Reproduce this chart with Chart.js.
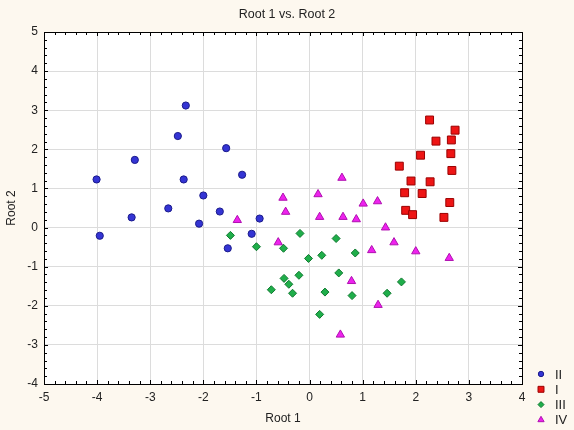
<!DOCTYPE html>
<html><head><meta charset="utf-8">
<script src="https://cdn.jsdelivr.net/npm/chart.js@4/dist/chart.umd.min.js"></script>
<style>html,body{margin:0;padding:0;background:#fdf8ef;}#wrap{width:574px;height:430px;}</style>
</head><body><div id="wrap"><canvas id="c" width="574" height="430"></canvas></div>
<script>
const chartTitle = 'Root 1 vs. Root 2';
const seriesNames = ['II', 'I', 'III', 'IV'];
const xTicks = [-5, -4, -3, -2, -1, 0, 1, 2, 3, 4];
const yTicks = [-4, -3, -2, -1, 0, 1, 2, 3, 4, 5];

const g2x = [-2.33, -2.48, -1.57, -3.29, -4.01, -2.37, -1.27, -2.00, -2.66, -1.69, -3.35, -2.08, -0.94, -1.09, -3.95, -1.54];
const g2y = [3.12, 2.34, 2.03, 1.73, 1.23, 1.23, 1.35, 0.82, 0.49, 0.41, 0.26, 0.10, 0.23, -0.16, -0.21, -0.53];

const g1x = [2.26, 2.74, 2.38, 2.67, 2.09, 2.66, 1.69, 2.68, 1.91, 2.27, 1.79, 2.12, 2.64, 1.81, 1.94, 2.53];
const g1y = [2.75, 2.49, 2.21, 2.24, 1.85, 1.89, 1.57, 1.46, 1.19, 1.17, 0.89, 0.87, 0.64, 0.44, 0.33, 0.26];

const g3x = [-1.49, -1.00, -0.18, -0.49, 0.50, -0.02, 0.23, 0.86, 0.55, -0.20, -0.48, -0.39, -0.72, -0.32, 0.29, 0.80, 1.46, 1.73, 0.19];
const g3y = [-0.20, -0.49, -0.15, -0.53, -0.28, -0.79, -0.71, -0.65, -1.16, -1.22, -1.30, -1.45, -1.59, -1.68, -1.65, -1.74, -1.68, -1.39, -2.22];

const g4x = [0.61, -0.50, 0.16, -0.45, -1.36, 0.19, 0.63, 0.88, 1.01, 1.28, 1.43, 1.59, 1.17, 2.00, 2.63, -0.59, 0.79, 1.29, 0.58];
const g4y = [1.27, 0.76, 0.85, 0.40, 0.19, 0.27, 0.27, 0.21, 0.61, 0.67, 0.00, -0.38, -0.58, -0.61, -0.78, -0.38, -1.37, -1.98, -2.74];

function pts(xs, ys) { return xs.map((x, i) => ({x: x, y: ys[i]})); }

const FONT = '"Liberation Sans", Arial, sans-serif';
const styles = [
  {pointStyle: 'circle', radius: 3.6, bg: '#3434d4', border: '#1c1c8c'},
  {pointStyle: 'rect', radius: 5.6, bg: '#ee1515', border: '#9a0000'},
  {pointStyle: 'rectRot', radius: 4, bg: '#1fae4a', border: '#0f7a30'},
  {pointStyle: 'triangle', radius: 4.8, bg: '#ee22ee', border: '#b010b0'}
];
const dataX = [g2x, g1x, g3x, g4x];
const dataY = [g2y, g1y, g3y, g4y];

const datasets = seriesNames.map((n, i) => ({
  label: n,
  data: pts(dataX[i], dataY[i]),
  pointStyle: styles[i].pointStyle,
  pointRadius: styles[i].radius,
  pointHoverRadius: styles[i].radius,
  backgroundColor: styles[i].bg,
  borderColor: styles[i].border,
  borderWidth: 1
}));

const framePlugin = {
  id: 'frame',
  beforeDraw(chart) {
    const ctx = chart.ctx, a = chart.chartArea;
    ctx.save();
    ctx.fillStyle = '#fdf8ef';
    ctx.fillRect(0, 0, chart.width, chart.height);
    ctx.fillStyle = '#ffffff';
    ctx.fillRect(a.left, a.top, a.right - a.left, a.bottom - a.top);
    ctx.restore();
  },
  afterDatasetsDraw(chart) {
    const ctx = chart.ctx, a = chart.chartArea;
    const xs = chart.scales.x, ys = chart.scales.y;
    ctx.save();
    ctx.strokeStyle = '#000';
    ctx.lineWidth = 1;
    ctx.strokeRect(Math.round(a.left) + 0.5, Math.round(a.top) + 0.5, Math.round(a.right - a.left), Math.round(a.bottom - a.top));
    ctx.beginPath();
    for (let k = 0; k <= 45; k++) {
      const v = xTicks[0] + k * 0.2;
      const px = Math.round(xs.getPixelForValue(v)) + 0.5;
      const len = (k % 5 === 0) ? 4 : 3;
      ctx.moveTo(px, a.bottom); ctx.lineTo(px, a.bottom - len);
      ctx.moveTo(px, a.top); ctx.lineTo(px, a.top + len);
    }
    for (let k = 0; k <= 45; k++) {
      const v = yTicks[0] + k * 0.2;
      const py = Math.round(ys.getPixelForValue(v)) + 0.5;
      const len = (k % 5 === 0) ? 4 : 3;
      ctx.moveTo(a.left, py); ctx.lineTo(a.left + len, py);
      ctx.moveTo(a.right, py); ctx.lineTo(a.right - len, py);
    }
    ctx.stroke();
    ctx.restore();
  },
  afterDraw(chart) {
    const ctx = chart.ctx, a = chart.chartArea;
    ctx.save();
    ctx.font = '12.5px ' + FONT;
    ctx.fillStyle = '#222';
    ctx.textAlign = 'center';
    ctx.textBaseline = 'middle';
    ctx.fillText(chartTitle, chart.width / 2, 15);
    const mx = a.right + 19, tx = a.right + 33;
    let y0 = a.bottom - 10;
    ctx.font = '13px ' + FONT;
    ctx.textAlign = 'left';
    chart.data.datasets.forEach((ds, i) => {
      const y = y0 + i * 15.3;
      ctx.fillStyle = ds.backgroundColor;
      ctx.strokeStyle = ds.borderColor;
      ctx.lineWidth = 1;
      Chart.helpers.drawPoint(ctx, {pointStyle: ds.pointStyle, radius: ds.pointRadius * 0.75, borderWidth: 1}, mx, y);
      ctx.fillStyle = '#222';
      ctx.fillText(ds.label, tx, y + 1);
    });
    ctx.restore();
  }
};

new Chart(document.getElementById('c'), {
  type: 'scatter',
  data: { datasets: datasets },
  plugins: [framePlugin],
  options: {
    responsive: false,
    animation: false,
    layout: { padding: { left: 0, right: 52, top: 32, bottom: 0 } },
    plugins: {
      legend: { display: false },
      tooltip: { enabled: false },
      title: { display: false }
    },
    scales: {
      x: {
        type: 'linear', min: -5, max: 4,
        afterFit(s) { s.height = 46; },
        afterBuildTicks(s) { s.ticks = xTicks.map(v => ({value: v})); },
        grid: { color: '#dcdcdc', drawTicks: false },
        border: { display: false },
        ticks: { color: '#222', padding: 6, font: { family: FONT, size: 12 } },
        title: { display: true, text: 'Root 1', color: '#222', padding: { top: 2, bottom: 4 },
                 font: { family: FONT, size: 12 } }
      },
      y: {
        type: 'linear', min: -4, max: 5,
        afterFit(s) { s.width = 44; },
        afterBuildTicks(s) { s.ticks = yTicks.map(v => ({value: v})); },
        grid: { color: '#dcdcdc', drawTicks: false },
        border: { display: false },
        ticks: { color: '#222', padding: 6, font: { family: FONT, size: 12 } },
        title: { display: true, text: 'Root 2', color: '#222', padding: { top: 4, bottom: 2 },
                 font: { family: FONT, size: 12 } }
      }
    }
  }
});
</script>
</body></html>
